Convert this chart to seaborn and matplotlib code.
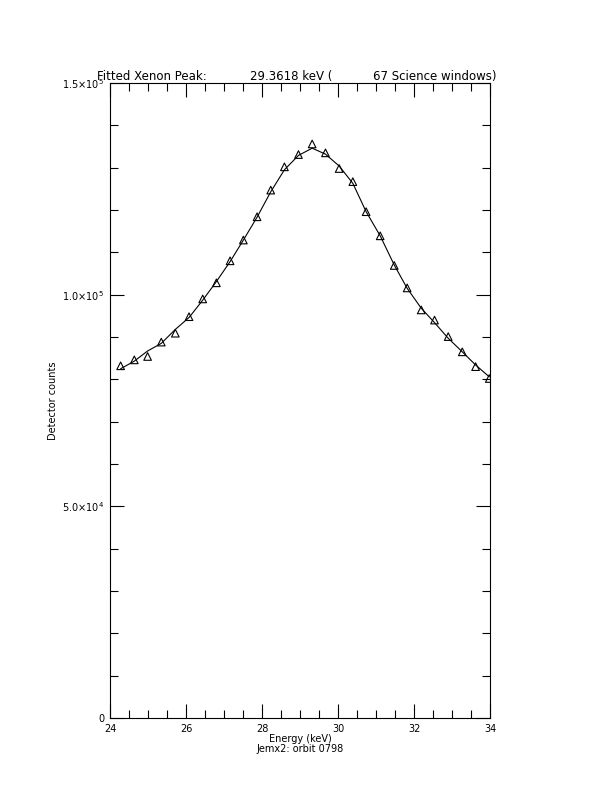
import seaborn as sns
import pandas as pd
import matplotlib as mpl
from matplotlib import pyplot as plt

# values
energy = [24.28, 24.64, 24.99, 25.35, 25.72, 26.08, 26.44, 26.80, 27.16, 27.51,
          27.87, 28.23, 28.59, 28.96, 29.32, 29.67, 30.03, 30.39, 30.74, 31.11,
          31.48, 31.82, 32.19, 32.54, 32.90, 33.27, 33.62, 33.98]
counts = [83200, 84600, 85400, 88800, 90900, 94800, 99000, 102800, 108000, 112900,
          118400, 124700, 130200, 133100, 135600, 133500, 129800, 126700, 119600, 113900,
          106900, 101600, 96400, 94000, 90100, 86500, 83000, 80200]
fit = [82500, 84300, 86700, 88500, 91800, 94600, 98700, 103100, 107800, 112900,
       118300, 124300, 129500, 132900, 134600, 133200, 130400, 126300, 119600, 113900,
       107000, 101500, 96800, 93400, 89700, 86500, 83400, 80600]

yticks = [0, 50000, 100000, 150000]
ytick_labels = ["0", "5.0\u00d710$^4$", "1.0\u00d710$^5$", "1.5\u00d710$^5$"]
xticks = [24, 26, 28, 30, 32, 34]

df = pd.DataFrame({"Energy": energy, "Counts": counts, "Fit": fit})

sns.set_style("ticks", {"text.color": "black", "xtick.color": "black",
                        "ytick.color": "black", "axes.labelcolor": "black"})
plt.rcParams["font.family"] = ["DejaVu Sans"]

fig = plt.figure(figsize=(6.12, 7.92), dpi=100)
ax = fig.add_axes([0.1797, 0.0934, 0.621, 0.8018])

sns.lineplot(data=df, x="Energy", y="Fit", color="black", linewidth=0.8, ax=ax)
sns.scatterplot(data=df, x="Energy", y="Counts", marker="^", s=30,
                facecolors="none", edgecolor="black", linewidth=0.8, ax=ax)

ax.set_xlim(24, 34)
ax.set_ylim(0, 150000)
ax.set_xticks(xticks)
ax.set_xticklabels([str(t) for t in xticks], fontsize=7)
ax.set_yticks(yticks)
ax.set_yticklabels(ytick_labels, fontsize=7)
ax.xaxis.set_minor_locator(mpl.ticker.MultipleLocator(0.5))
ax.yaxis.set_minor_locator(mpl.ticker.MultipleLocator(10000))
ax.tick_params(which="both", direction="in", top=True, right=True,
               color="black", labelcolor="black", width=0.8)
ax.tick_params(which="major", length=10, pad=4)
ax.tick_params(which="minor", length=6)
for s in ax.spines.values():
    s.set_color("black")
    s.set_linewidth(0.8)

ax.set_xlabel("")
ax.set_ylabel("Detector counts", fontsize=7, color="black")
ax.yaxis.set_label_coords(-0.137, 0.5)

tc = dict(fontsize=8.5, ha="left", va="baseline", color="black")
fig.text(97 / 612, 1 - 80 / 792, "Fitted Xenon Peak:", **tc)
fig.text(250 / 612, 1 - 80 / 792, "29.3618 keV (", **tc)
fig.text(373 / 612, 1 - 80 / 792, "67 Science windows)", **tc)
fig.text(300 / 612, 1 - 742 / 792, "Energy (keV)", fontsize=7, ha="center",
         va="baseline", color="black")
fig.text(300 / 612, 1 - 752 / 792, "Jemx2: orbit 0798", fontsize=7, ha="center",
         va="baseline", color="black")

plt.savefig("out.png", dpi=100)
